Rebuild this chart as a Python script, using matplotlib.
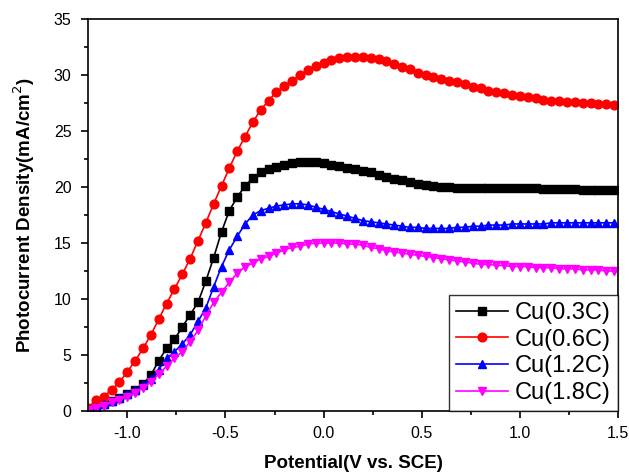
import matplotlib
matplotlib.use('Agg')
import matplotlib.pyplot as plt
from matplotlib.ticker import MultipleLocator

plt.rcParams['font.family'] = ['Liberation Sans', 'DejaVu Sans']
plt.rcParams['axes.unicode_minus'] = False

# potential (V vs. SCE), one point every 0.04 V
potential = [-1.20, -1.16, -1.12, -1.08, -1.04, -1.00, -0.96, -0.92, -0.88, -0.84,
             -0.80, -0.76, -0.72, -0.68, -0.64, -0.60, -0.56, -0.52, -0.48, -0.44,
             -0.40, -0.36, -0.32, -0.28, -0.24, -0.20, -0.16, -0.12, -0.08, -0.04,
             0.00, 0.04, 0.08, 0.12, 0.16, 0.20, 0.24, 0.28, 0.32, 0.36,
             0.40, 0.44, 0.48, 0.52, 0.56, 0.60, 0.64, 0.68, 0.72, 0.76,
             0.80, 0.84, 0.88, 0.92, 0.96, 1.00, 1.04, 1.08, 1.12, 1.16,
             1.20, 1.24, 1.28, 1.32, 1.36, 1.40, 1.44, 1.48]

cu_03 = [0.1, 0.4, 0.6, 0.9, 1.2, 1.5, 1.9, 2.4, 3.2, 4.5,
         5.6, 6.4, 7.5, 8.6, 9.7, 11.6, 13.7, 16.0, 17.9, 19.1,
         20.1, 20.8, 21.3, 21.6, 21.8, 22.0, 22.1, 22.2, 22.2, 22.2,
         22.1, 22.0, 21.9, 21.7, 21.6, 21.4, 21.3, 21.1, 20.9, 20.7,
         20.6, 20.4, 20.3, 20.2, 20.1, 20.0, 20.0, 19.9, 19.9, 19.9,
         19.9, 19.9, 19.9, 19.9, 19.9, 19.9, 19.9, 19.9, 19.8, 19.8,
         19.8, 19.8, 19.8, 19.7, 19.7, 19.7, 19.7, 19.7]

cu_06 = [0.3, 1.0, 1.3, 1.9, 2.6, 3.5, 4.5, 5.6, 6.8, 8.2,
         9.6, 10.9, 12.2, 13.6, 15.2, 16.8, 18.5, 20.1, 21.7, 23.2,
         24.5, 25.8, 26.9, 27.7, 28.5, 29.0, 29.5, 30.0, 30.4, 30.8,
         31.1, 31.3, 31.5, 31.6, 31.6, 31.6, 31.5, 31.4, 31.2, 31.0,
         30.7, 30.5, 30.2, 30.0, 29.8, 29.6, 29.5, 29.4, 29.2, 28.9,
         28.8, 28.6, 28.5, 28.4, 28.2, 28.1, 28.0, 27.9, 27.8, 27.7,
         27.7, 27.6, 27.6, 27.5, 27.5, 27.4, 27.4, 27.3]

cu_12 = [0.1, 0.4, 0.6, 0.9, 1.2, 1.5, 1.9, 2.3, 2.9, 3.7,
         4.7, 5.3, 6.0, 6.8, 8.0, 9.2, 11.1, 12.9, 14.4, 15.6,
         16.7, 17.5, 17.9, 18.1, 18.3, 18.4, 18.5, 18.5, 18.4, 18.2,
         18.0, 17.8, 17.6, 17.4, 17.2, 17.0, 16.9, 16.8, 16.7, 16.6,
         16.5, 16.4, 16.4, 16.3, 16.3, 16.3, 16.3, 16.4, 16.4, 16.5,
         16.5, 16.6, 16.6, 16.6, 16.7, 16.7, 16.7, 16.7, 16.7, 16.8,
         16.8, 16.8, 16.8, 16.8, 16.8, 16.8, 16.8, 16.8]

cu_18 = [0.1, 0.3, 0.5, 0.8, 1.0, 1.3, 1.6, 2.1, 2.6, 3.3,
         4.0, 4.7, 5.3, 6.2, 7.2, 8.5, 9.7, 10.6, 11.5, 12.3,
         12.9, 13.2, 13.6, 13.8, 14.1, 14.4, 14.6, 14.7, 14.9, 15.0,
         15.0, 15.0, 15.0, 14.9, 14.9, 14.8, 14.6, 14.5, 14.3, 14.2,
         14.1, 14.0, 13.9, 13.8, 13.7, 13.6, 13.5, 13.4, 13.3, 13.2,
         13.1, 13.1, 13.0, 13.0, 12.9, 12.9, 12.9, 12.8, 12.8, 12.8,
         12.7, 12.7, 12.7, 12.6, 12.6, 12.6, 12.5, 12.5]

series = [
    ('Cu(0.3C)', cu_03, 'black', 's'),
    ('Cu(0.6C)', cu_06, 'red', 'o'),
    ('Cu(1.2C)', cu_12, 'blue', '^'),
    ('Cu(1.8C)', cu_18, 'magenta', 'v'),
]

fig = plt.figure(figsize=(6.29, 4.72), dpi=100)
ax = fig.add_axes([0.140, 0.129, 0.8425, 0.831])

for label, vals, color, marker in series:
    ax.plot(potential, vals, color=color, marker=marker, markersize=6.3,
            linewidth=1.2, label=label)

ax.set_xlim(-1.2, 1.5)
ax.set_ylim(0, 35)
ax.xaxis.set_major_locator(MultipleLocator(0.5))
ax.xaxis.set_minor_locator(MultipleLocator(0.25))
ax.yaxis.set_major_locator(MultipleLocator(5))
ax.yaxis.set_minor_locator(MultipleLocator(2.5))
ax.tick_params(which='both', direction='out', top=False, right=False,
               labelsize=11.5, width=1.2)
ax.tick_params(which='major', length=5)
ax.tick_params(which='minor', length=3)
ax.tick_params(axis='x', pad=6)
ax.tick_params(axis='y', pad=7)
for sp in ax.spines.values():
    sp.set_linewidth(1.2)

ax.set_xlabel('Potential(V vs. SCE)', fontsize=13.5, fontweight='bold', labelpad=10)
ax.set_ylabel('Photocurrent Density(mA/cm$^2$)', fontsize=13.5, fontweight='bold',
              labelpad=12)

leg = ax.legend(loc='lower right', fontsize=17, frameon=True, fancybox=False,
                borderaxespad=0, handlelength=2.2, labelspacing=0.2,
                borderpad=0.3, handletextpad=0.3, handleheight=0.7)
leg.get_frame().set_edgecolor('black')
leg.get_frame().set_linewidth(1.0)

fig.savefig('out.png', dpi=100)
